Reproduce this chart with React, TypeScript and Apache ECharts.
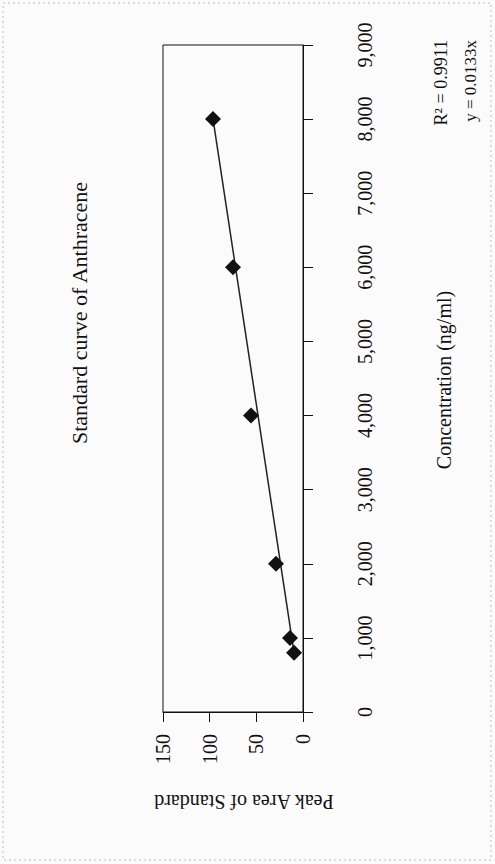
import React, { useEffect, useRef } from "react";
import * as echarts from "echarts";

const concentration = [800, 1000, 2000, 4000, 6000, 8000];
const peakArea = [9.6, 13.9, 28.9, 55.7, 75.0, 96.4];
const trendConcentration = [800, 8000];
const trendPeakArea = [9.6, 96.4];

const titleText = "Standard curve of Anthracene";
const xName = "Concentration (ng/ml)";
const yName = "Peak Area of Standard";
const equationText = "y = 0.0133x";
const r2Text = "R² = 0.9911";

const FONT = '"Liberation Serif", "Times New Roman", serif';
const INK = "#111111";

export default function App() {
  const ref = useRef<HTMLDivElement>(null);

  useEffect(() => {
    if (!ref.current) return;
    const chart = echarts.init(ref.current, undefined, { renderer: "svg" });
    chart.setOption({
      animation: false,
      backgroundColor: "#fbfbfb",
      grid: {
        left: 163,
        right: 192,
        top: 45,
        bottom: 152,
        show: true,
        borderColor: INK,
        borderWidth: 1,
        backgroundColor: "transparent",
      },
      xAxis: {
        type: "value",
        min: 0,
        max: 150,
        interval: 50,
        inverse: true,
        position: "bottom",
        axisLine: { show: true, onZero: false, lineStyle: { color: INK, width: 1 } },
        axisTick: { show: true, length: 10, lineStyle: { color: INK, width: 1 } },
        axisLabel: { rotate: 90, margin: 22, fontSize: 20, fontFamily: FONT, color: INK },
        splitLine: { show: false },
      },
      yAxis: {
        type: "value",
        min: 0,
        max: 9000,
        interval: 1000,
        position: "right",
        axisLine: { show: true, onZero: false, lineStyle: { color: INK, width: 1 } },
        axisTick: { show: true, length: 10, lineStyle: { color: INK, width: 1 } },
        axisLabel: {
          rotate: 90,
          margin: 52,
          fontSize: 20,
          fontFamily: FONT,
          color: INK,
          formatter: (v: number) => v.toLocaleString("en-US"),
        },
        splitLine: { show: false },
      },
      series: [
        {
          type: "line",
          data: trendPeakArea.map((p, i) => [p, trendConcentration[i]]),
          symbol: "none",
          lineStyle: { color: "#222", width: 1.5 },
          z: 2,
        },
        {
          type: "scatter",
          data: peakArea.map((p, i) => [p, concentration[i]]),
          symbol: "diamond",
          symbolSize: 16,
          itemStyle: { color: INK, opacity: 1 },
          z: 3,
        },
      ],
      graphic: [
        {
          type: "rect",
          shape: { x: 3, y: 3, width: 488, height: 857 },
          style: { fill: "none", stroke: "#bdbdbd", lineWidth: 1, lineDash: [2, 3] },
          silent: true,
        },
        {
          type: "text",
          x: 79,
          y: 313,
          rotation: Math.PI / 2,
          style: { text: titleText, fontSize: 22, fontFamily: FONT, fill: INK, align: "center", verticalAlign: "middle" },
        },
        {
          type: "text",
          x: 444,
          y: 380,
          rotation: Math.PI / 2,
          style: { text: xName, fontSize: 20, fontFamily: FONT, fill: INK, align: "center", verticalAlign: "middle" },
        },
        {
          type: "text",
          x: 244,
          y: 802,
          rotation: Math.PI,
          style: { text: yName, fontSize: 20, fontFamily: FONT, fill: INK, align: "center", verticalAlign: "middle" },
        },
        {
          type: "text",
          x: 470,
          y: 40,
          rotation: Math.PI / 2,
          style: { text: equationText, fontSize: 17, fontFamily: FONT, fill: INK, align: "right", verticalAlign: "middle" },
        },
        {
          type: "text",
          x: 441,
          y: 40,
          rotation: Math.PI / 2,
          style: { text: r2Text, fontSize: 18, fontFamily: FONT, fill: INK, align: "right", verticalAlign: "middle" },
        },
      ],
    });
    return () => chart.dispose();
  }, []);

  return (
    <div
      ref={ref}
      style={{ position: "fixed", left: 0, top: 0, width: 495, height: 864 }}
    />
  );
}
